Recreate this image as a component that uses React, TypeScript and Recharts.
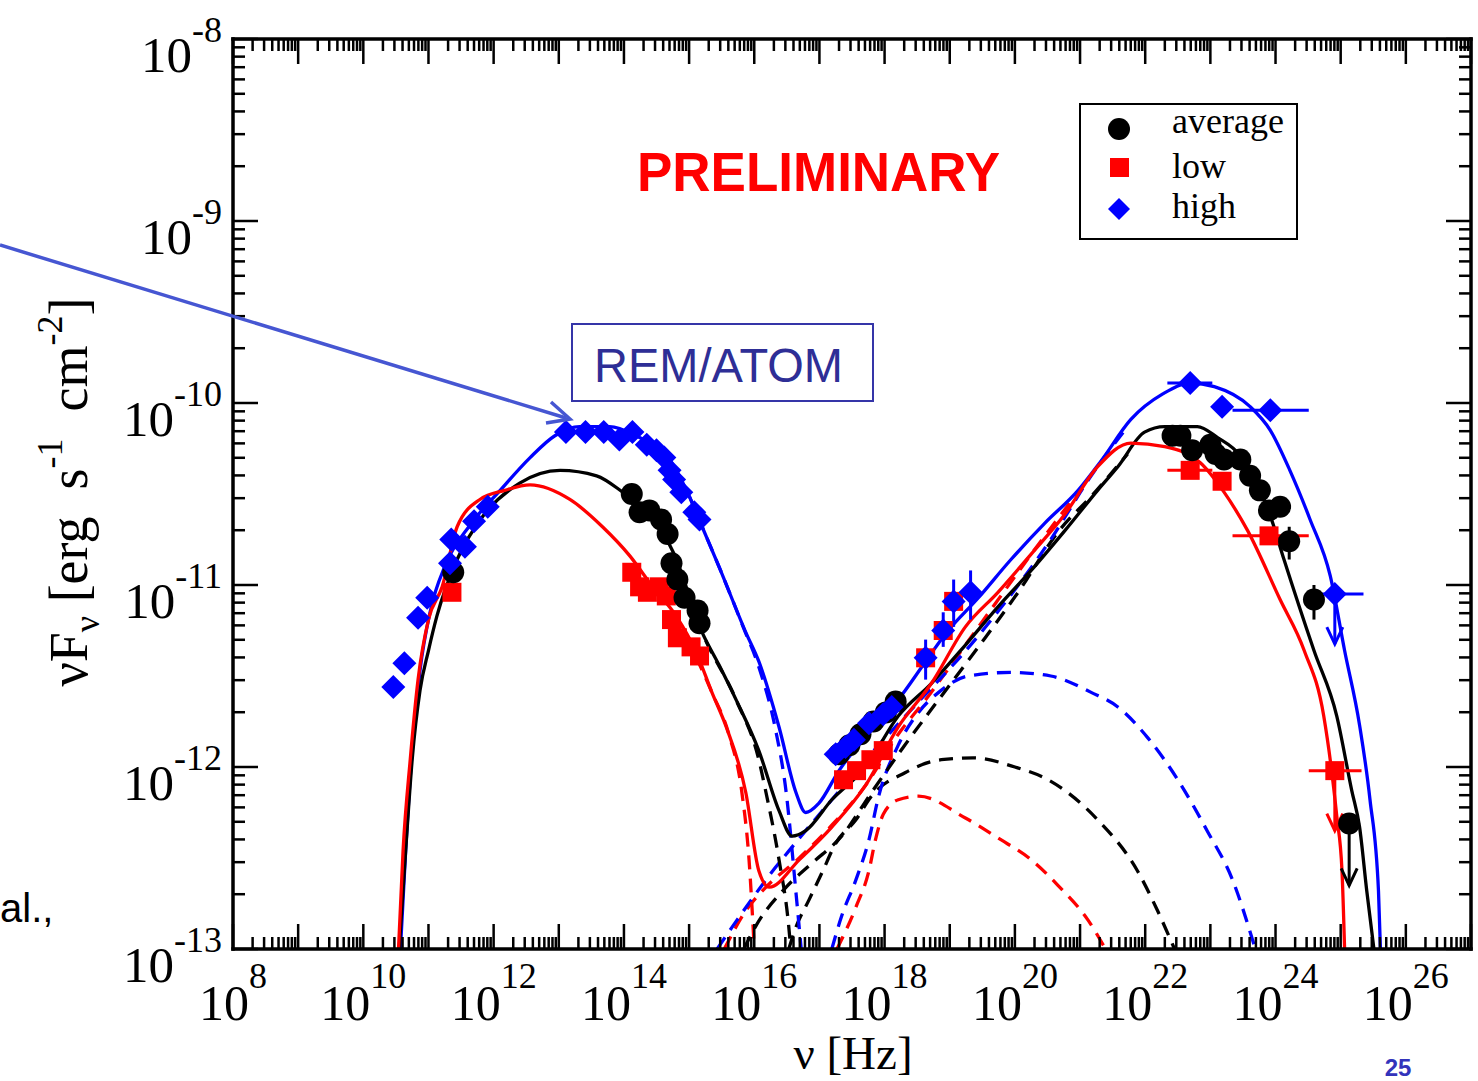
import React from 'react';
import { ComposedChart, Line, Scatter, XAxis, YAxis, ErrorBar } from 'recharts';

// ---------- layout ----------
const W = 1478;
const H = 1081;
const PLOT = { left: 233, top: 39, right: 1471, bottom: 949 };
const SERIF = '"Liberation Serif", "Times New Roman", serif';
const SANS = '"Liberation Sans", Arial, sans-serif';
const BLACK = '#000000';
const RED = '#ff0000';
const BLUE = '#0000ff';

// ---------- axes ----------
const X_DOMAIN = [1e8, 1e27];
const Y_DOMAIN = [1e-13, 1e-8];
const X_LABEL_EXPONENTS = [8, 10, 12, 14, 16, 18, 20, 22, 24, 26];
const Y_LABEL_EXPONENTS = [-13, -12, -11, -10, -9, -8];
const X_TICKS: number[] = [];
for (let e = 8; e < 27; e++) for (let k = 1; k <= 9; k++) X_TICKS.push(k * Math.pow(10, e));
X_TICKS.push(1e27);
const Y_TICKS: number[] = [];
for (let e = -13; e < -8; e++) for (let k = 1; k <= 9; k++) Y_TICKS.push(k * Math.pow(10, e));
Y_TICKS.push(1e-8);

const SERIES_NAMES = ['average', 'low', 'high'];

// ---------- data: [log10 nu (Hz), log10 nuFnu (erg s^-1 cm^-2)] ----------
// model curves (solid = total)
const avgTotal = [[10.55,-13.00],[10.65,-12.46],[10.75,-11.96],[10.87,-11.58],[11.00,-11.36],[11.13,-11.17],[11.44,-10.86],[11.84,-10.62],[12.40,-10.44],[13.02,-10.37],[13.58,-10.40],[13.98,-10.49],[14.39,-10.61],[14.77,-10.83],[15.20,-11.26],[15.46,-11.44],[15.72,-11.63],[16.07,-11.91],[16.38,-12.24],[16.58,-12.38],[16.79,-12.35],[17.19,-12.18],[17.71,-12.00],[18.21,-11.72],[18.72,-11.54],[19.24,-11.33],[19.74,-11.12],[20.25,-10.92],[20.77,-10.70],[21.27,-10.48],[21.58,-10.35],[21.99,-10.16],[22.30,-10.13],[22.80,-10.13],[23.11,-10.19],[23.46,-10.29],[23.92,-10.62],[24.13,-10.86],[24.59,-11.36],[24.94,-11.72],[25.17,-12.13],[25.29,-12.33],[25.40,-12.68],[25.51,-13.00]];
const lowTotal = [[10.54,-13.00],[10.61,-12.46],[10.72,-11.96],[10.84,-11.52],[11.00,-11.19],[11.21,-11.01],[11.44,-10.68],[11.79,-10.53],[12.17,-10.48],[12.56,-10.45],[13.17,-10.53],[13.67,-10.68],[14.09,-10.84],[14.44,-11.01],[14.80,-11.17],[15.11,-11.37],[15.35,-11.59],[15.57,-11.78],[15.87,-12.14],[16.07,-12.57],[16.23,-12.66],[16.69,-12.51],[17.19,-12.33],[17.71,-12.10],[18.21,-11.78],[18.72,-11.54],[19.24,-11.23],[19.74,-11.04],[20.25,-10.83],[20.77,-10.61],[21.27,-10.35],[21.78,-10.22],[22.30,-10.24],[22.85,-10.33],[23.21,-10.49],[23.57,-10.70],[24.07,-11.08],[24.44,-11.36],[24.74,-11.72],[24.94,-12.27],[25.02,-12.57],[25.06,-13.00]];
const highTotal = [[10.57,-13.00],[10.65,-12.46],[10.75,-11.91],[10.87,-11.47],[11.03,-11.14],[11.26,-10.89],[11.64,-10.67],[12.10,-10.48],[12.56,-10.30],[12.94,-10.18],[13.32,-10.13],[13.78,-10.13],[14.24,-10.19],[14.50,-10.24],[14.70,-10.31],[15.00,-10.51],[15.20,-10.68],[15.46,-10.90],[15.87,-11.26],[16.07,-11.42],[16.38,-11.78],[16.64,-12.14],[16.79,-12.25],[16.99,-12.20],[17.30,-12.02],[17.76,-11.81],[18.21,-11.63],[18.63,-11.42],[18.93,-11.27],[19.44,-11.07],[19.94,-10.86],[20.46,-10.66],[20.97,-10.48],[21.32,-10.32],[21.78,-10.09],[22.27,-9.95],[22.69,-9.89],[23.06,-9.91],[23.61,-10.02],[23.92,-10.15],[24.22,-10.37],[24.53,-10.64],[24.84,-10.95],[25.06,-11.36],[25.29,-11.77],[25.45,-12.18],[25.58,-12.68],[25.61,-13.00]];

// model components (dashed): synchrotron, SSC, external Compton
const avgSync = [[14.77,-10.83],[15.20,-11.26],[15.72,-11.63],[16.07,-11.96],[16.18,-12.14],[16.38,-12.51],[16.53,-12.88],[16.56,-13.00]];
const lowSync = [[14.80,-11.17],[15.35,-11.59],[15.61,-11.82],[15.81,-12.14],[15.92,-12.51],[16.00,-13.00]];
const highSync = [[15.00,-10.51],[15.20,-10.68],[15.46,-10.90],[15.84,-11.24],[16.07,-11.45],[16.33,-11.80],[16.49,-12.14],[16.64,-12.69],[16.72,-13.00]];
const avgSSC = [[15.84,-13.00],[16.03,-12.87],[16.49,-12.66],[16.88,-12.53],[17.34,-12.38],[17.80,-12.14],[18.29,-11.89],[18.83,-11.63],[19.44,-11.34],[20.05,-11.04],[20.66,-10.71],[21.23,-10.49],[21.73,-10.28]];
const lowSSC = [[15.54,-13.00],[15.87,-12.79],[16.18,-12.66],[16.69,-12.50],[17.19,-12.32],[17.71,-12.10],[18.21,-11.82],[18.63,-11.63],[19.44,-11.23],[20.46,-10.73],[21.12,-10.42]];
const highSSC = [[15.43,-13.00],[15.66,-12.88],[16.33,-12.55],[16.58,-12.44],[17.19,-12.18],[17.76,-11.94],[18.37,-11.70],[19.39,-11.30],[20.55,-10.75],[21.17,-10.40],[21.73,-10.13]];
const avgEC = [[16.53,-13.00],[16.64,-12.88],[16.84,-12.73],[17.04,-12.58],[17.25,-12.42],[17.56,-12.29],[17.80,-12.16],[18.32,-12.03],[18.87,-11.96],[19.36,-11.95],[20.00,-12.00],[20.51,-12.07],[21.27,-12.29],[21.88,-12.57],[22.19,-12.79],[22.45,-13.00]];
const lowEC = [[17.27,-13.00],[17.56,-12.77],[17.76,-12.57],[17.86,-12.40],[17.98,-12.26],[18.21,-12.18],[18.52,-12.16],[19.24,-12.28],[19.74,-12.39],[20.25,-12.51],[20.66,-12.65],[21.12,-12.84],[21.39,-13.00]];
const highEC = [[17.19,-13.00],[17.34,-12.82],[17.56,-12.62],[17.76,-12.40],[17.91,-12.16],[18.21,-11.88],[18.52,-11.70],[18.83,-11.59],[19.28,-11.50],[19.94,-11.48],[20.55,-11.50],[21.17,-11.59],[21.58,-11.67],[22.04,-11.84],[22.50,-12.07],[22.95,-12.35],[23.34,-12.62],[23.69,-13.00]];

// observed points
const avgPoints = [[11.38,-10.93],[14.12,-10.50],[14.24,-10.60],[14.39,-10.59],[14.57,-10.64],[14.67,-10.72],[14.73,-10.88],[14.82,-10.97],[14.93,-11.07],[15.13,-11.14],[15.16,-11.21],
  [17.30,-11.93],[17.46,-11.88],[17.63,-11.82],[17.83,-11.75],[18.02,-11.70],[18.17,-11.64],
  [22.42,-10.18],[22.54,-10.18],[22.72,-10.26],[23.00,-10.23],[23.08,-10.28],[23.21,-10.31],[23.46,-10.31],[23.61,-10.40],[23.76,-10.48],[23.90,-10.59],[24.07,-10.57]];
const avgYErrPoints = [[24.21,-10.76,-10.86,-10.68],[24.59,-11.08,-11.19,-11.00]]; // [x, y, yLow, yHigh]
const avgUpperLimits = [[25.13,-12.31]];

const lowPoints = [[11.36,-11.04],[14.12,-10.93],[14.24,-11.01],[14.36,-11.04],[14.54,-11.01],[14.65,-11.06],[14.73,-11.19],[14.82,-11.29],[15.03,-11.34],[15.16,-11.39],
  [17.37,-12.07],[17.57,-12.02],[17.79,-11.96],[17.98,-11.91],[18.63,-11.40],[18.90,-11.25],[19.06,-11.09],
  [23.18,-10.43]];
const lowXErrPoints = [[22.69,-10.37,22.34,23.03],[23.90,-10.73,23.34,24.51]]; // [x, y, xLow, xHigh]
const lowUpperLimits = [[24.91,-12.02,24.51,25.32]];

const highPoints = [[10.46,-11.56],[10.63,-11.43],[10.84,-11.18],[10.98,-11.07],[11.33,-10.88],[11.35,-10.75],[11.56,-10.79],[11.70,-10.65],[11.91,-10.57],
  [13.11,-10.16],[13.41,-10.16],[13.69,-10.16],[13.93,-10.20],[14.13,-10.16],[14.35,-10.23],[14.50,-10.26],[14.62,-10.30],[14.70,-10.37],[14.77,-10.42],[14.88,-10.49],[15.08,-10.60],[15.16,-10.64],
  [17.25,-11.93],[17.40,-11.89],[17.53,-11.85],[17.76,-11.76],[17.98,-11.71],[18.11,-11.67],
  [23.18,-10.02]];
const highYErrPoints = [[18.63,-11.40,-11.52,-11.30],[18.90,-11.25,-11.34,-11.15],[19.06,-11.09,-11.23,-10.97],[19.32,-11.04,-11.19,-10.92]];
const highXErrPoints = [[22.69,-9.89,22.34,23.03],[23.92,-10.04,23.34,24.51]];
const highUpperLimits = [[24.91,-11.05,24.51,25.35]];

// ---------- helpers ----------
const p10 = (v: number) => Math.pow(10, v);
const toCurve = (arr: number[][]) => arr.map(([lx, ly]) => ({ x: p10(lx), y: p10(ly) }));
const toYErr = (arr: number[][]) => arr.map(([lx, ly, lo, hi]) => ({ x: p10(lx), y: p10(ly), ey: [p10(ly) - p10(lo), p10(hi) - p10(ly)] }));
const toXErr = (arr: number[][]) => arr.map(([lx, ly, lo, hi]) => ({ x: p10(lx), y: p10(ly), ex: [p10(lx) - p10(lo), p10(hi) - p10(lx)] }));

const isMajor = (v: number) => {
  const l = Math.log10(v);
  return Math.abs(l - Math.round(l)) < 1e-6;
};

const AXIS_LINE = { stroke: '#000', strokeWidth: 3.5, strokeLinecap: 'square' };
const MAJOR = 25;
const MINOR = 12;

const bottomTick = (p: any) => {
  const { x, y, payload } = p;
  const v = payload.value;
  const major = isMajor(v);
  const e = Math.round(Math.log10(v));
  return (
    <g>
      <line x1={x} x2={x} y1={y} y2={y - (major ? MAJOR : MINOR)} stroke="#000" strokeWidth={2.5} />
      {major && X_LABEL_EXPONENTS.includes(e) && (
        <text x={x} y={y + 71} textAnchor="middle" fontFamily={SERIF} fontSize={50} fill="#000">
          10<tspan dy={-32} fontSize={36}>{e}</tspan>
        </text>
      )}
    </g>
  );
};
const topTick = (p: any) => {
  const { x, y, payload } = p;
  const major = isMajor(payload.value);
  return <line x1={x} x2={x} y1={y} y2={y + (major ? MAJOR : MINOR)} stroke="#000" strokeWidth={2.5} />;
};
const leftTick = (p: any) => {
  const { x, y, payload } = p;
  const v = payload.value;
  const major = isMajor(v);
  const e = Math.round(Math.log10(v));
  return (
    <g>
      <line x1={x} x2={x + (major ? MAJOR : MINOR)} y1={y} y2={y} stroke="#000" strokeWidth={2.5} />
      {major && Y_LABEL_EXPONENTS.includes(e) && (
        <text x={x - 11} y={y + 33} textAnchor="end" fontFamily={SERIF} fontSize={51} fill="#000">
          10<tspan dy={-30} fontSize={36}>{e}</tspan>
        </text>
      )}
    </g>
  );
};
const rightTick = (p: any) => {
  const { x, y, payload } = p;
  const major = isMajor(payload.value);
  return <line x1={x} x2={x - (major ? MAJOR : MINOR)} y1={y} y2={y} stroke="#000" strokeWidth={2.5} />;
};

// ---------- markers ----------
const circleShape = (p: any) => <circle cx={p.cx} cy={p.cy} r={11} fill={BLACK} />;
const squareShape = (p: any) => <rect x={p.cx - 9.5} y={p.cy - 9.5} width={19} height={19} fill={RED} />;
const diamondShape = (p: any) => (
  <path d={`M${p.cx},${p.cy - 12} L${p.cx + 12},${p.cy} L${p.cx},${p.cy + 12} L${p.cx - 12},${p.cy} Z`} fill={BLUE} />
);
const downArrow = (cx: number, cy: number, len: number, color: string) => (
  <g>
    <line x1={cx} y1={cy} x2={cx} y2={cy + len} stroke={color} strokeWidth={3} />
    <path d={`M${cx - 8},${cy + len - 17} L${cx},${cy + len} L${cx + 8},${cy + len - 17}`} fill="none" stroke={color} strokeWidth={3} />
  </g>
);
const circleUL = (p: any) => (<g>{downArrow(p.cx, p.cy, 62, BLACK)}{circleShape(p)}</g>);
const squareUL = (p: any) => (<g>{downArrow(p.cx, p.cy, 60, RED)}{squareShape(p)}</g>);
const diamondUL = (p: any) => (<g>{downArrow(p.cx, p.cy, 50, BLUE)}{diamondShape(p)}</g>);

const lineCommon = {
  xAxisId: 'b',
  yAxisId: 'l',
  dataKey: 'y',
  type: 'monotone' as const,
  dot: false,
  activeDot: false,
  isAnimationActive: false,
  strokeWidth: 3.3,
};
const DASH = '14 9';

export default function App() {
  return (
    <div style={{ position: 'absolute', left: 0, top: 0, width: W, height: H, background: '#fff' }}>
      <ComposedChart width={W} height={H} margin={{ top: 0, right: 0, bottom: 0, left: 0 }}>
        <XAxis xAxisId="b" orientation="bottom" type="number" dataKey="x" scale="log" domain={X_DOMAIN} ticks={X_TICKS}
          interval={0} allowDataOverflow height={H - PLOT.bottom} tickSize={0} tickMargin={0} tickLine={false}
          tick={bottomTick} axisLine={AXIS_LINE} />
        <XAxis xAxisId="t" orientation="top" type="number" dataKey="x" scale="log" domain={X_DOMAIN} ticks={X_TICKS}
          interval={0} allowDataOverflow height={PLOT.top} tickSize={0} tickMargin={0} tickLine={false}
          tick={topTick} axisLine={AXIS_LINE} />
        <YAxis yAxisId="l" orientation="left" type="number" dataKey="y" scale="log" domain={Y_DOMAIN} ticks={Y_TICKS}
          interval={0} allowDataOverflow width={PLOT.left} tickSize={0} tickMargin={0} tickLine={false}
          tick={leftTick} axisLine={AXIS_LINE} />
        <YAxis yAxisId="r" orientation="right" type="number" dataKey="y" scale="log" domain={Y_DOMAIN} ticks={Y_TICKS}
          interval={0} allowDataOverflow width={W - PLOT.right} tickSize={0} tickMargin={0} tickLine={false}
          tick={rightTick} axisLine={AXIS_LINE} />

        {/* dashed components */}
        <Line {...lineCommon} data={toCurve(avgEC)} stroke={BLACK} strokeDasharray={DASH} />
        <Line {...lineCommon} data={toCurve(lowEC)} stroke={RED} strokeDasharray={DASH} />
        <Line {...lineCommon} data={toCurve(highEC)} stroke={BLUE} strokeDasharray={DASH} />
        <Line {...lineCommon} data={toCurve(avgSSC)} stroke={BLACK} strokeDasharray={DASH} />
        <Line {...lineCommon} data={toCurve(lowSSC)} stroke={RED} strokeDasharray={DASH} />
        <Line {...lineCommon} data={toCurve(highSSC)} stroke={BLUE} strokeDasharray={DASH} />
        <Line {...lineCommon} data={toCurve(avgSync)} stroke={BLACK} strokeDasharray={DASH} />
        <Line {...lineCommon} data={toCurve(lowSync)} stroke={RED} strokeDasharray={DASH} />
        <Line {...lineCommon} data={toCurve(highSync)} stroke={BLUE} strokeDasharray={DASH} />

        {/* totals */}
        <Line {...lineCommon} data={toCurve(highTotal)} stroke={BLUE} />
        <Line {...lineCommon} data={toCurve(avgTotal)} stroke={BLACK} />
        <Line {...lineCommon} data={toCurve(lowTotal)} stroke={RED} />

        {/* observations */}
        <Scatter name={SERIES_NAMES[1]} xAxisId="b" yAxisId="l" dataKey="y" data={toCurve(lowPoints)} shape={squareShape} isAnimationActive={false} />
        <Scatter xAxisId="b" yAxisId="l" dataKey="y" data={toXErr(lowXErrPoints)} shape={squareShape} isAnimationActive={false}>
          <ErrorBar dataKey="ex" direction="x" width={0} stroke={RED} strokeWidth={3} />
        </Scatter>
        <Scatter xAxisId="b" yAxisId="l" dataKey="y" data={toXErr(lowUpperLimits)} shape={squareUL} isAnimationActive={false}>
          <ErrorBar dataKey="ex" direction="x" width={0} stroke={RED} strokeWidth={3} />
        </Scatter>

        <Scatter name={SERIES_NAMES[0]} xAxisId="b" yAxisId="l" dataKey="y" data={toCurve(avgPoints)} shape={circleShape} isAnimationActive={false} />
        <Scatter xAxisId="b" yAxisId="l" dataKey="y" data={toYErr(avgYErrPoints)} shape={circleShape} isAnimationActive={false}>
          <ErrorBar dataKey="ey" direction="y" width={0} stroke={BLACK} strokeWidth={3} />
        </Scatter>
        <Scatter xAxisId="b" yAxisId="l" dataKey="y" data={toCurve(avgUpperLimits)} shape={circleUL} isAnimationActive={false} />

        <Scatter name={SERIES_NAMES[2]} xAxisId="b" yAxisId="l" dataKey="y" data={toCurve(highPoints)} shape={diamondShape} isAnimationActive={false} />
        <Scatter xAxisId="b" yAxisId="l" dataKey="y" data={toYErr(highYErrPoints)} shape={diamondShape} isAnimationActive={false}>
          <ErrorBar dataKey="ey" direction="y" width={0} stroke={BLUE} strokeWidth={3} />
        </Scatter>
        <Scatter xAxisId="b" yAxisId="l" dataKey="y" data={toXErr(highXErrPoints)} shape={diamondShape} isAnimationActive={false}>
          <ErrorBar dataKey="ex" direction="x" width={0} stroke={BLUE} strokeWidth={3} />
        </Scatter>
        <Scatter xAxisId="b" yAxisId="l" dataKey="y" data={toXErr(highUpperLimits)} shape={diamondUL} isAnimationActive={false}>
          <ErrorBar dataKey="ex" direction="x" width={0} stroke={BLUE} strokeWidth={3} />
        </Scatter>
      </ComposedChart>

      <svg width={W} height={H} style={{ position: 'absolute', left: 0, top: 0, pointerEvents: 'none', overflow: 'visible' }}>
        {/* axis titles */}
        <text x={853} y={1069} textAnchor="middle" fontFamily={SERIF} fontSize={47} fill="#000">ν [Hz]</text>
        <text transform="translate(87,492) rotate(-90)" textAnchor="middle" fontFamily={SERIF} fontSize={54} fill="#000">
          νF<tspan fontSize={36} dy={12}>ν</tspan>
          <tspan dy={-12}>{'\u00a0[erg\u00a0\u00a0s'}</tspan>
          <tspan fontSize={36} dy={-25}>-1</tspan>
          <tspan dy={25}>{'\u00a0\u00a0cm'}</tspan>
          <tspan fontSize={36} dy={-25}>-2</tspan>
          <tspan dy={25}>]</tspan>
        </text>

        {/* annotations */}
        <text x={637} y={191} fontFamily={SANS} fontWeight="bold" fontSize={56} fill={RED} textLength={363} lengthAdjust="spacingAndGlyphs">PRELIMINARY</text>
        <rect x={572} y={324} width={301} height={77} fill="#fff" stroke="#3535a8" strokeWidth={2} />
        <text x={594} y={382} fontFamily={SANS} fontSize={48} fill="#2e2e96" textLength={249} lengthAdjust="spacingAndGlyphs">REM/ATOM</text>
        <line x1={0} y1={245} x2={566} y2={418} stroke="#4656d2" strokeWidth={3.5} />
        <path d="M551,402 L570,419 L546,423" fill="none" stroke="#4656d2" strokeWidth={3.5} strokeLinejoin="miter" />
        <text x={0} y={922} fontFamily={SANS} fontSize={40} fill="#000">al.,</text>
        <text x={1398} y={1076} textAnchor="middle" fontFamily={SANS} fontWeight="bold" fontSize={24} fill="#3333bb">25</text>

        {/* legend */}
        <rect x={1080} y={104} width={217} height={135} fill="#fff" stroke="#000" strokeWidth={2} />
        <circle cx={1119} cy={129} r={11} fill={BLACK} />
        <rect x={1110} y={158} width={19} height={19} fill={RED} />
        <path d="M1119,198 L1130,209 L1119,220 L1108,209 Z" fill={BLUE} />
        <text x={1172} y={133} fontFamily={SERIF} fontSize={36} fill="#000">{SERIES_NAMES[0]}</text>
        <text x={1172} y={178} fontFamily={SERIF} fontSize={36} fill="#000">{SERIES_NAMES[1]}</text>
        <text x={1172} y={218} fontFamily={SERIF} fontSize={36} fill="#000">{SERIES_NAMES[2]}</text>
      </svg>
    </div>
  );
}
